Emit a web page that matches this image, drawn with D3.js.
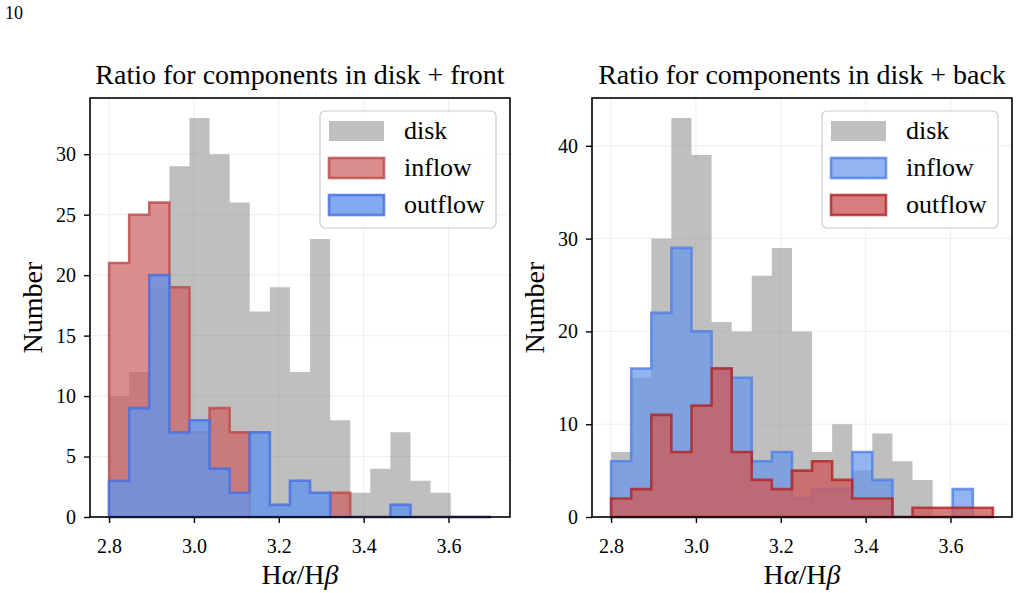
<!DOCTYPE html>
<html>
<head>
<meta charset="utf-8">
<script src="https://cdn.jsdelivr.net/npm/d3@7"></script>
<style>
  html, body { margin: 0; padding: 0; background: #fff; }
  text { font-family: "Liberation Serif", "DejaVu Serif", serif; fill: #000; }
</style>
</head>
<body>
<div id="chart"></div>
<script>
// histogram bins shared by every series
const binStart = 2.8;
const binEnd = 3.7;
const binCount = 19;

const xTicks = [2.8, 3.0, 3.2, 3.4, 3.6];
const leftYTicks = [0, 5, 10, 15, 20, 25, 30];
const rightYTicks = [0, 10, 20, 30, 40];

// counts per bin
const frontDisk    = [10, 12, 19, 29, 33, 30, 26, 17, 19, 12, 23, 8, 2, 4, 7, 3, 2, 0, 0];
const frontInflow  = [21, 25, 26, 19, 7, 9, 7, 0, 0, 0, 0, 2, 0, 0, 0, 0, 0, 0, 0];
const frontOutflow = [3, 9, 20, 7, 8, 4, 2, 7, 1, 3, 2, 0, 0, 0, 1, 0, 0, 0, 0];

const backDisk     = [7, 15, 30, 43, 39, 21, 20, 26, 29, 20, 7, 10, 5, 9, 6, 4, 0, 0, 0];
const backInflow   = [6, 16, 22, 29, 20, 16, 15, 6, 7, 2, 3, 3, 7, 4, 0, 0, 0, 3, 0];
const backOutflow  = [2, 3, 11, 7, 12, 16, 7, 4, 3, 5, 6, 4, 2, 2, 0, 1, 1, 1, 1];

const width = 1019, height = 593;
const edges = d3.range(binCount + 1).map(i => binStart + i * (binEnd - binStart) / binCount);

// styles
const greyStyle = { fill: "#808080", fillOpacity: 0.5, stroke: "none", strokeOpacity: 0 };
const indianRed = { fill: "#cd5c5c", fillOpacity: 0.7, stroke: "#bf4f4f", strokeOpacity: 0.85 };
const frontBlue = { fill: "#6495ed", fillOpacity: 0.8, stroke: "#4a72e0", strokeOpacity: 0.85 };
const cornBlue  = { fill: "#6495ed", fillOpacity: 0.7, stroke: "#4f7fe8", strokeOpacity: 0.8 };
const backRed   = { fill: "#cd5c5c", fillOpacity: 0.8, stroke: "#b22222", strokeOpacity: 0.8 };

const svg = d3.select("#chart")
  .append("svg")
  .attr("width", width)
  .attr("height", height)
  .attr("viewBox", [0, 0, width, height]);

svg.append("rect").attr("width", width).attr("height", height).attr("fill", "#fff");

// page number in the corner
svg.append("text")
  .attr("x", 5).attr("y", 19)
  .style("font-size", "18px")
  .text("10");

function HistPanel(g, {
    left,
    right,
    top = 98,
    bottom = 517,
    title,
    yTicks,
    yMax,
    series,
    legend,
  }) {
  const xScale = d3.scaleLinear([2.755, 3.745], [left, right]);
  const yScale = d3.scaleLinear([0, yMax], [bottom, top]);

  // grid
  g.append("g")
    .selectAll("line")
    .data(xTicks)
    .join("line")
    .attr("x1", d => xScale(d)).attr("x2", d => xScale(d))
    .attr("y1", top).attr("y2", bottom)
    .attr("stroke", "#b0b0b0").attr("stroke-opacity", 0.2);
  g.append("g")
    .selectAll("line")
    .data(yTicks)
    .join("line")
    .attr("x1", left).attr("x2", right)
    .attr("y1", d => yScale(d)).attr("y2", d => yScale(d))
    .attr("stroke", "#b0b0b0").attr("stroke-opacity", 0.2);

  const line = d3.line()
    .x(d => xScale(d[0]))
    .y(d => yScale(d[1]));

  series.forEach(s => {
    const pts = [[edges[0], 0]];
    s.counts.forEach((c, i) => {
      pts.push([edges[i], c]);
      pts.push([edges[i + 1], c]);
    });
    pts.push([edges[edges.length - 1], 0]);
    g.append("path")
      .attr("d", line(pts) + "Z")
      .attr("fill", s.style.fill)
      .attr("fill-opacity", s.style.fillOpacity)
      .attr("stroke", s.style.stroke)
      .attr("stroke-opacity", s.style.strokeOpacity)
      .attr("stroke-width", 2.6)
      .attr("stroke-linejoin", "miter");
  });

  // axes
  const xAxis = d3.axisBottom(xScale).tickValues(xTicks).tickFormat(d3.format(".1f")).tickSize(6).tickSizeOuter(0);
  const yAxis = d3.axisLeft(yScale).tickValues(yTicks).tickSize(6).tickSizeOuter(0);

  g.append("g")
    .attr("transform", `translate(0,${bottom})`)
    .call(xAxis)
    .call(a => a.select(".domain").remove())
    .call(a => a.selectAll(".tick line").attr("stroke", "#000").attr("stroke-width", 1.4))
    .call(a => a.selectAll(".tick text")
      .attr("dy", null).attr("y", 36)
      .style("font-size", "20px").style("font-family", "Liberation Serif"));

  g.append("g")
    .attr("transform", `translate(${left},0)`)
    .call(yAxis)
    .call(a => a.select(".domain").remove())
    .call(a => a.selectAll(".tick line").attr("stroke", "#000").attr("stroke-width", 1.4))
    .call(a => a.selectAll(".tick text")
      .attr("x", -14)
      .style("font-size", "20px").style("font-family", "Liberation Serif"));

  // frame
  g.append("rect")
    .attr("x", left).attr("y", top)
    .attr("width", right - left).attr("height", bottom - top)
    .attr("fill", "none").attr("stroke", "#000").attr("stroke-width", 1.6);

  // title
  g.append("text")
    .attr("x", (left + right) / 2).attr("y", top - 14)
    .attr("text-anchor", "middle")
    .style("font-size", "28px")
    .text(title);

  // axis labels
  const xl = g.append("text")
    .attr("x", (left + right) / 2).attr("y", 584)
    .attr("text-anchor", "middle")
    .style("font-size", "28px");
  xl.append("tspan").text("H");
  xl.append("tspan").style("font-style", "italic").text("α");
  xl.append("tspan").text("/H");
  xl.append("tspan").style("font-style", "italic").text("β");

  g.append("text")
    .attr("transform", `translate(${left - 48},${(top + bottom) / 2}) rotate(-90)`)
    .attr("text-anchor", "middle")
    .style("font-size", "28px")
    .text("Number");

  // legend
  const lx = right - 190, ly = top + 13;
  const lg = g.append("g");
  lg.append("rect")
    .attr("x", lx).attr("y", ly)
    .attr("width", 176).attr("height", 117)
    .attr("rx", 5)
    .attr("fill", "#fff").attr("fill-opacity", 0.8)
    .attr("stroke", "#cccccc").attr("stroke-width", 1.2);
  legend.forEach((d, i) => {
    const cy = ly + 20 + i * 37;
    lg.append("rect")
      .attr("x", lx + 9).attr("y", cy - 10)
      .attr("width", 55).attr("height", 20)
      .attr("fill", d.style.fill)
      .attr("fill-opacity", d.style.fillOpacity)
      .attr("stroke", d.style.stroke)
      .attr("stroke-opacity", d.style.strokeOpacity)
      .attr("stroke-width", 2.6);
    lg.append("text")
      .attr("x", lx + 84).attr("y", cy + 8)
      .style("font-size", "26px")
      .text(d.label);
  });
}

HistPanel(svg.append("g"), {
  left: 90,
  right: 510,
  title: "Ratio for components in disk + front",
  yTicks: leftYTicks,
  yMax: 34.65,
  series: [
    { counts: frontDisk, style: greyStyle },
    { counts: frontInflow, style: indianRed },
    { counts: frontOutflow, style: frontBlue },
  ],
  legend: [
    { label: "disk", style: greyStyle },
    { label: "inflow", style: indianRed },
    { label: "outflow", style: frontBlue },
  ],
});

HistPanel(svg.append("g"), {
  left: 592,
  right: 1012,
  title: "Ratio for components in disk + back",
  yTicks: rightYTicks,
  yMax: 45.15,
  series: [
    { counts: backDisk, style: greyStyle },
    { counts: backInflow, style: cornBlue },
    { counts: backOutflow, style: backRed },
  ],
  legend: [
    { label: "disk", style: greyStyle },
    { label: "inflow", style: cornBlue },
    { label: "outflow", style: backRed },
  ],
});
</script>
</body>
</html>
